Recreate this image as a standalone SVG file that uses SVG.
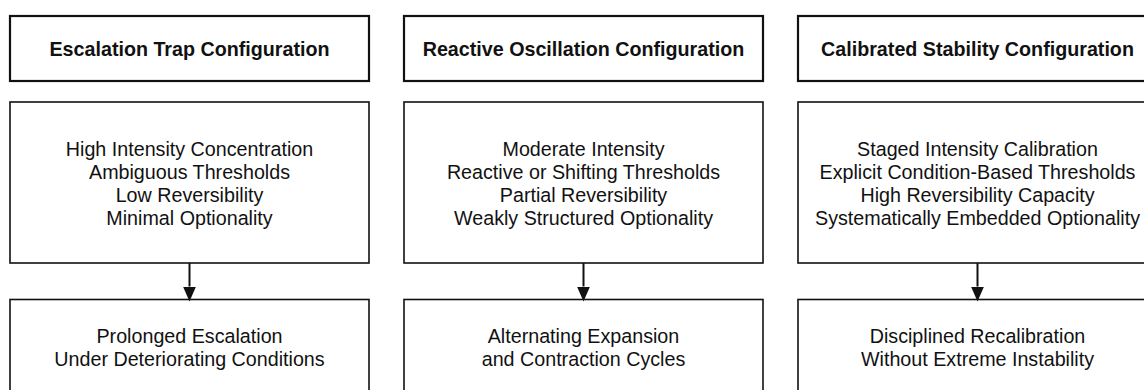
<svg xmlns="http://www.w3.org/2000/svg" width="1144" height="390" viewBox="0 0 1144 390">
<defs>
<style>
.box{fill:#fff;stroke:#111;stroke-width:1.6}
.tbox{fill:#fff;stroke:#111;stroke-width:2.2}
.t{font-family:"Liberation Sans",Arial,sans-serif;font-size:19.7px;fill:#111;text-anchor:middle}
.b{font-weight:bold}
.conn{stroke:#111;stroke-width:2;fill:none}
</style>
<marker id="ah" markerWidth="15" markerHeight="13" refX="0" refY="6.5" orient="auto" markerUnits="userSpaceOnUse" viewBox="0 0 15 13">
<path d="M0,0 L15,6.5 L0,13 Z" fill="#111"/>
</marker>
</defs>
<rect width="1144" height="390" fill="#fff"/>
<g id="title1"><rect class="tbox" x="10" y="16" width="359" height="65"/><text class="t b" x="189.5" y="55.5">Escalation Trap Configuration</text></g>
<g id="title2"><rect class="tbox" x="404" y="16" width="359" height="65"/><text class="t b" x="583.5" y="55.5">Reactive Oscillation Configuration</text></g>
<g id="title3"><rect class="tbox" x="798" y="16" width="359" height="65"/><text class="t b" x="977.5" y="55.5">Calibrated Stability Configuration</text></g>
<g id="props1"><rect class="box" x="10" y="102" width="359" height="161"/>
<text class="t" x="189.5" y="155.5">High Intensity Concentration</text>
<text class="t" x="189.5" y="178.8">Ambiguous Thresholds</text>
<text class="t" x="189.5" y="202.1">Low Reversibility</text>
<text class="t" x="189.5" y="225.4">Minimal Optionality</text></g>
<g id="props2"><rect class="box" x="404" y="102" width="359" height="161"/>
<text class="t" x="583.5" y="155.5">Moderate Intensity</text>
<text class="t" x="583.5" y="178.8">Reactive or Shifting Thresholds</text>
<text class="t" x="583.5" y="202.1">Partial Reversibility</text>
<text class="t" x="583.5" y="225.4">Weakly Structured Optionality</text></g>
<g id="props3"><rect class="box" x="798" y="102" width="359" height="161"/>
<text class="t" x="977.5" y="155.5">Staged Intensity Calibration</text>
<text class="t" x="977.5" y="178.8">Explicit Condition-Based Thresholds</text>
<text class="t" x="977.5" y="202.1">High Reversibility Capacity</text>
<text class="t" x="977.5" y="225.4">Systematically Embedded Optionality</text></g>
<g id="out1"><rect class="box" x="10" y="299.5" width="359" height="98"/>
<text class="t" x="189.5" y="343">Prolonged Escalation</text>
<text class="t" x="189.5" y="366.3">Under Deteriorating Conditions</text></g>
<g id="out2"><rect class="box" x="404" y="299.5" width="359" height="98"/>
<text class="t" x="583.5" y="343">Alternating Expansion</text>
<text class="t" x="583.5" y="366.3">and Contraction Cycles</text></g>
<g id="out3"><rect class="box" x="798" y="299.5" width="359" height="98"/>
<text class="t" x="977.5" y="343">Disciplined Recalibration</text>
<text class="t" x="977.5" y="366.3">Without Extreme Instability</text></g>
<g id="connectors">
<line class="conn" x1="189.5" y1="263" x2="189.5" y2="286.5" marker-end="url(#ah)"/>
<line class="conn" x1="583.5" y1="263" x2="583.5" y2="286.5" marker-end="url(#ah)"/>
<line class="conn" x1="977.5" y1="263" x2="977.5" y2="286.5" marker-end="url(#ah)"/>
</g>
</svg>
